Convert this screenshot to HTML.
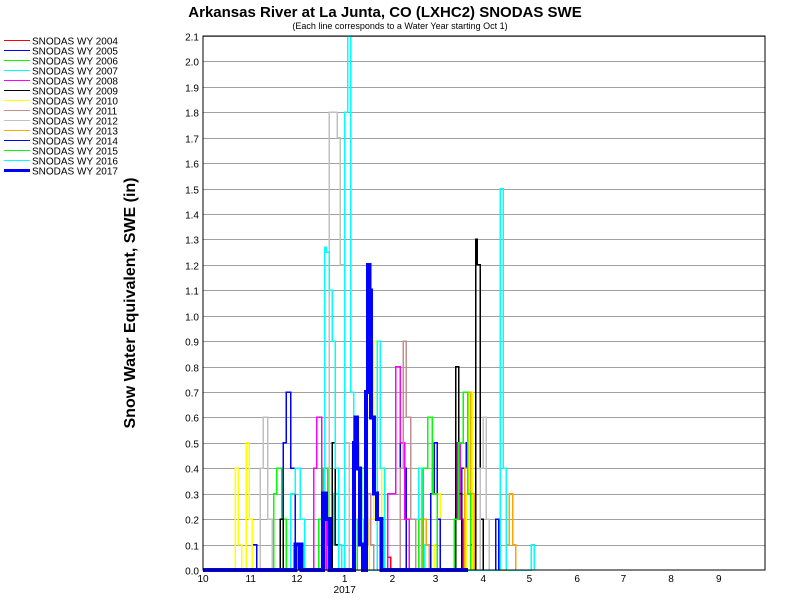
<!DOCTYPE html>
<html><head><meta charset="utf-8"><style>
html,body{margin:0;padding:0;background:#fff;}
svg{display:block;font-family:"Liberation Sans",sans-serif;}
</style></head><body>
<svg id="chart" width="800" height="600" viewBox="0 0 800 600" shape-rendering="crispEdges">
<text x="385" y="17" text-anchor="middle" font-size="15" font-weight="bold">Arkansas River at La Junta, CO (LXHC2) SNODAS SWE</text>
<text x="400" y="29" text-anchor="middle" font-size="9">(Each line corresponds to a Water Year starting Oct 1)</text>
<text transform="translate(135,303) rotate(-90)" text-anchor="middle" font-size="16" font-weight="bold">Snow Water Equivalent, SWE (in)</text>
<g id="grid"></g>
<g id="series"></g>
<rect x="203" y="36" width="562" height="534" fill="none" stroke="#000" stroke-width="1"/>
<g id="axes"></g>
<g id="legend"></g>
</svg>
<script>
const yTicks=[0,0.1,0.2,0.3,0.4,0.5,0.6,0.7,0.8,0.9,1.0,1.1,1.2,1.3,1.4,1.5,1.6,1.7,1.8,1.9,2.0,2.1];
const monthLabels=["10","11","12","1","2","3","4","5","6","7","8","9"];
const monthDays=[0,31,61,92,123,151,182,212,243,273,304,335];
const seriesNames=["SNODAS WY 2004","SNODAS WY 2005","SNODAS WY 2006","SNODAS WY 2007","SNODAS WY 2008","SNODAS WY 2009","SNODAS WY 2010","SNODAS WY 2011","SNODAS WY 2012","SNODAS WY 2013","SNODAS WY 2014","SNODAS WY 2015","SNODAS WY 2016","SNODAS WY 2017"];
const seriesColors=["#ff0000","#0000ff","#00ff00","#00ffff","#ff00ff","#000000","#ffff00","#c09090","#c0c0c0","#ffa500","#0000ff","#00ff00","#00ffff","#0000ff"];
const d2004=[[80,0],[82,0.1],[84,0],[120,0.05],[122,0]];
const d2005=[[30,0],[32,0.1],[35,0],[52,0.5],[54,0.7],[57,0.4],[60,0.1],[62,0],[120,0.3],[125,0.8],[128,0.4],[132,0],[168,0.4],[171,0.5],[174,0.1],[176,0]];
const d2006=[[44,0],[46,0.3],[48,0.4],[51,0.2],[54,0],[75,0.2],[78,0.4],[81,0.1],[83,0],[100,0.2],[103,0.4],[106,0.1],[108,0],[140,0.2],[142,0.1],[144,0]];
const d2007=[[55,0],[57,0.3],[60,0.4],[63,0.2],[66,0],[83,0.1],[85,0.3],[88,0.1],[90,0],[138,0.2],[140,0.4],[142,0.1],[144,0]];
const d2008=[[70,0],[72,0.4],[74,0.6],[77,0.3],[80,0],[120,0.3],[125,0.8],[128,0.5],[131,0.2],[134,0],[163,0.2],[165,0.5],[167,0.2],[169,0]];
const d2009=[[48,0],[50,0.2],[52,0],[82,0],[84,0.5],[86,0.1],[88,0],[163,0],[164,0.8],[166,0.3],[168,0],[176,0],[177,1.3],[178,1.2],[180,0.2],[182,0]];
const d2010=[[20,0],[21,0.4],[23,0.1],[25,0],[28,0.5],[30,0.2],[32,0],[108,0.2],[111,0.9],[113,0.4],[116,0],[150,0.1],[152,0.3],[154,0],[171,0.3],[173,0.7],[175,0]];
const d2011=[[105,0.1],[107,0.3],[109,0.1],[111,0],[128,0.4],[130,0.9],[132,0.6],[135,0.2],[138,0]];
const d2012=[[35,0],[37,0.4],[39,0.6],[42,0.2],[45,0],[80,0],[82,1.8],[85,1.8],[87,1.7],[89,1.2],[92,0.5],[95,0],[180,0.4],[182,0.6],[184,0.2],[186,0]];
const d2013=[[140,0],[142,0.2],[145,0.1],[147,0],[170,0.4],[172,0.7],[174,0.3],[176,0],[197,0.1],[199,0.3],[201,0.1],[203,0]];
const d2014=[[146,0],[148,0.3],[150,0.5],[152,0.2],[154,0],[188,0],[190,0.2],[192,0]];
const d2015=[[140,0],[143,0.4],[146,0.6],[149,0.3],[152,0],[163,0.2],[166,0.5],[169,0.7],[172,0.3],[174,0]];
const d2016=[[77,0],[79,1.27],[80,1.25],[82,1.1],[84,0.9],[86,0.4],[88,0],[91,0],[92,1.8],[94,2.1],[96,0.7],[98,0.5],[101,0.2],[104,0],[112,0],[113,0.9],[115,0.4],[118,0],[192,0],[193,1.5],[195,0.4],[197,0],[212,0],[213,0.1],[215,0]];
const d2017=[[0,0],[58,0],[60,0.1],[62,0.1],[64,0],[77,0],[78,0.3],[80,0.2],[82,0],[97,0],[98,0.5],[99,0.6],[100,0.4],[102,0.1],[104,0],[106,0.7],[107,1.2],[108,1.1],[109,0.6],[111,0.3],[113,0.2],[116,0],[172,0]];
const seriesData=[d2004,d2005,d2006,d2007,d2008,d2009,d2010,d2011,d2012,d2013,d2014,d2015,d2016,d2017];

const X0=203,X1=765,Y0=570,Y1=36,YMAX=2.1;
const xS=d=>X0+d*(X1-X0)/365;
const yS=v=>Y0-v*(Y0-Y1)/YMAX;
const NS="http://www.w3.org/2000/svg";
function mk(tag,attrs,parent){const e=document.createElementNS(NS,tag);for(const k in attrs)e.setAttribute(k,attrs[k]);parent.appendChild(e);return e;}
const grid=document.getElementById('grid'),axes=document.getElementById('axes'),ser=document.getElementById('series'),leg=document.getElementById('legend');
yTicks.forEach(t=>{
  const y=Math.round(yS(t))+0.5;
  if(t>0){const l=mk('line',{x1:X0,x2:X1,y1:y,y2:y,stroke:'#a0a0a0','stroke-width':1},grid);
  
  }
  const tx=mk('text',{x:199,y:y+4,'text-anchor':'end','font-size':10},axes);
  tx.textContent=t.toFixed(1);
  
  
});
monthLabels.forEach((m,i)=>{
  const x=xS(monthDays[i]);
  const tx=mk('text',{x:x,y:582,'text-anchor':'middle','font-size':10},axes);
  tx.textContent=m;
  
  
});
const yr=mk('text',{x:xS(92),y:593,'text-anchor':'middle','font-size':10},axes);
yr.textContent='2017';


seriesData.forEach((s,i)=>{
  let p='';
  for(let j=0;j<s.length;j++){
    const x=xS(s[j][0]),y=yS(s[j][1]);
    p+=(j?'L':'M')+x.toFixed(1)+','+y.toFixed(1);
    if(j<s.length-1)p+='L'+xS(s[j+1][0]).toFixed(1)+','+y.toFixed(1);
  }
  const path=mk('path',{d:p,fill:'none',stroke:seriesColors[i],'stroke-width':i===13?4:1.5},ser);
  
  
  const y=40.5+i*10;
  const ll=mk('line',{x1:4,x2:30,y1:y,y2:y,stroke:seriesColors[i],'stroke-width':i===13?3:1},leg);
  
  
  const lt=mk('text',{x:32,y:y+4,'font-size':10},leg);
  lt.textContent=seriesNames[i];
  
  
});
</script>
</body></html>
